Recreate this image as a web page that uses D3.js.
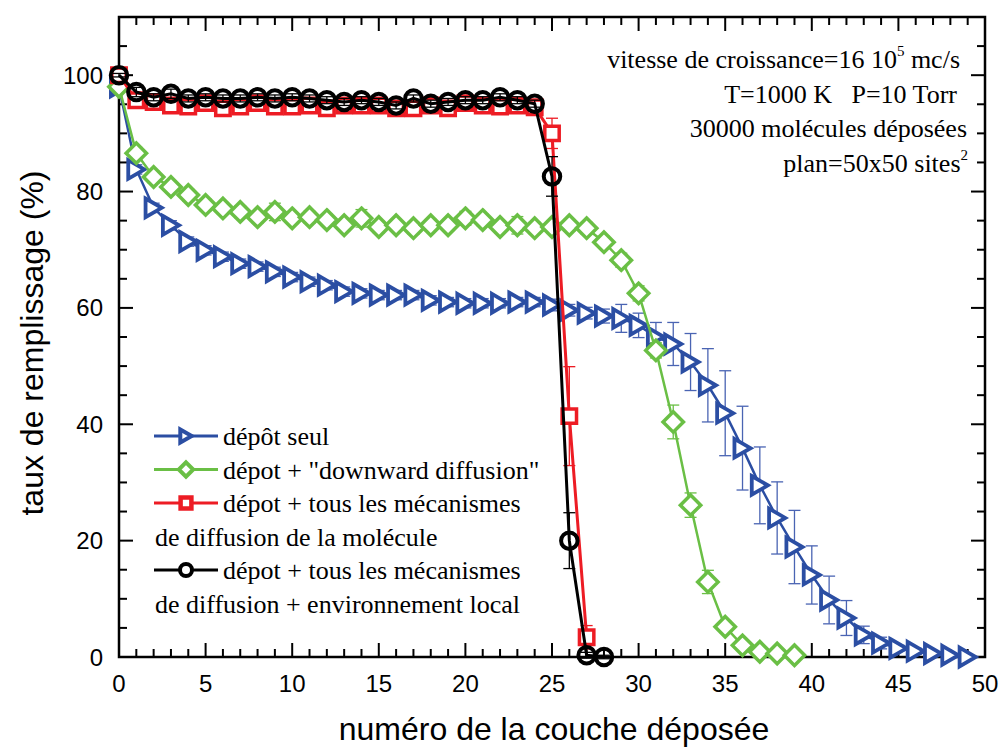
<!DOCTYPE html>
<html>
<head>
<meta charset="utf-8">
<script src="https://cdn.jsdelivr.net/npm/d3@7"></script>
<style>
  body { margin: 0; background: #fff; }
  svg { display: block; }
</style>
</head>
<body>
<div id="chart"></div>
<script>
// layer numbers (x) and filling rate (%) per series
var layers = [0,1,2,3,4,5,6,7,8,9,10,11,12,13,14,15,16,17,18,19,20,21,22,23,24,
  25,26,27,28,29,30,31,32,33,34,35,36,37,38,39,40,41,42,43,44,45,46,47,48,49];

var depotSeul = [98,83.8,77.2,74.2,71.4,69.9,68.8,67.6,67.1,66.2,65.3,64.5,63.9,62.8,62.5,62.2,62.2,
  62.2,61.3,61.0,60.8,60.8,60.8,61.0,61.0,60.5,59.6,59.1,58.6,58.2,57.0,55.0,53.8,50.7,46.7,41.9,
  35.9,29.5,23.9,18.9,14.1,9.8,6.7,3.8,2.4,1.5,1.0,0.6,0.3,0];
var depotSeulErr = [0.5,0.8,0.8,0.8,0.8,0.8,0.8,0.8,0.8,0.8,0.8,0.8,0.8,0.8,0.8,0.8,0.8,0.8,0.8,0.8,
  0.8,0.8,0.8,0.8,0.8,1.0,1.0,1.0,1.2,2.4,2.1,2.5,3.7,4.9,6.3,7.3,7.2,6.6,6.2,6.3,5.0,4.1,3.0,1.5,
  1.0,0.5,0.5,0.5,0.3,0.2];

var downward = [98,86.6,82.5,80.8,79.4,77.7,77.1,76.5,75.6,76.5,75.4,75.6,75.1,74.2,75.4,73.9,74.2,
  73.7,74.2,74.2,75.4,75.1,73.9,74.2,73.7,73.9,74.2,73.7,71.3,68.2,62.5,52.7,40.4,26.1,12.9,5.2,
  2.0,0.9,0.6,0.3];
var downwardErr = [0.5,1.0,1.0,1.0,1.0,1.0,1.0,1.0,1.0,1.5,1.0,1.0,1.0,1.0,1.5,1.0,1.0,1.0,1.0,1.0,
  1.2,1.0,1.0,1.5,1.0,1.0,1.0,1.0,1.0,1.2,1.3,1.3,2.9,2.1,2.0,1.0,0.5,0.3,0.3,0.2];

var tousMeca = [100,95.7,95.4,94.8,94.6,95.2,94.3,94.6,95.2,94.6,94.6,94.8,94.3,94.8,94.8,94.8,94.3,
  94.3,94.8,94.3,95.2,94.8,94.6,94.8,94.5,90.0,41.4,3.4];
var tousMecaErr = [0.3,0.6,0.6,0.6,0.6,0.6,0.6,0.6,0.6,0.6,0.6,0.6,0.6,0.6,0.6,0.6,0.6,0.6,0.6,0.6,
  0.6,0.6,0.6,0.6,0.6,2.6,8.5,2.0];

var environnement = [100,97.1,96.2,96.8,96.0,96.2,96.0,96.0,96.2,96.0,96.2,96.0,95.7,95.4,95.7,95.4,
  94.8,96.0,95.1,95.4,95.7,95.7,96.2,95.7,95.1,82.6,20.0,0.3,0];
var environnementErr = [0.3,0.8,0.6,0.8,0.6,0.6,0.6,0.6,0.6,0.6,0.6,0.6,0.6,0.6,0.6,0.6,0.6,0.6,0.6,
  0.6,0.6,0.6,0.6,0.6,0.6,3.4,4.8,0.5,0.3];

var xTicks = [0,5,10,15,20,25,30,35,40,45,50];
var yTicks = [0,20,40,60,80,100];

var series = [
  { values: depotSeul, err: depotSeulErr, color: "#2b4ea3", errColor: "#4a64b3", shape: "triangle", lw: 2.5, size: 17, sw: 3.8 },
  { values: downward, err: downwardErr, color: "#6abf45", errColor: "#6abf45", shape: "diamond", lw: 2.5, size: 17, sw: 3.5 },
  { values: tousMeca, err: tousMecaErr, color: "#ed1c24", errColor: "#ed1c24", shape: "square", lw: 3, size: 16, sw: 3.5 },
  { values: environnement, err: environnementErr, color: "#000000", errColor: "#000000", shape: "circle", lw: 3, size: 16.5, sw: 4 }
];

var legendItems = [
  { shape: "triangle", color: "#2b4ea3", lines: ["dépôt seul"] },
  { shape: "diamond", color: "#6abf45", lines: ["dépot + \"downward diffusion\""] },
  { shape: "square", color: "#ed1c24", lines: ["dépot + tous les mécanismes", "de diffusion de la molécule"] },
  { shape: "circle", color: "#000000", lines: ["dépot + tous les mécanismes", "de diffusion + environnement local"] }
];

var width = 1001, height = 747;
var plotL = 119, plotR = 985, plotT = 17, plotB = 657;

var svg = d3.select("#chart").append("svg")
  .attr("width", width)
  .attr("height", height);

var x = d3.scaleLinear().domain([0, 50]).range([plotL, plotR]);
var y = d3.scaleLinear().domain([0, 110]).range([plotB, plotT]);

// marker paths, centered on 0,0
function markerPath(shape, s) {
  if (shape == "triangle") {
    var w = s * 0.95, h = s * 1.1;
    return "M" + (-w / 2) + "," + (-h / 2) + "L" + (w / 2) + ",0L" + (-w / 2) + "," + (h / 2) + "Z";
  }
  if (shape == "diamond") {
    var r = s * 0.6;
    return "M0," + (-r) + "L" + r + ",0L0," + r + "L" + (-r) + ",0Z";
  }
  if (shape == "square") {
    var a = s * 0.45;
    return "M" + (-a) + "," + (-a) + "H" + a + "V" + a + "H" + (-a) + "Z";
  }
  var c = s * 0.5;
  return "M" + (-c) + ",0A" + c + "," + c + " 0 1,0 " + c + ",0A" + c + "," + c + " 0 1,0 " + (-c) + ",0Z";
}

// axes: frame with inward ticks on all four sides
var axisG = svg.append("g");

function tickSide(g, scale, major, minorStep, orient) {
  var dom = scale.domain();
  var vals = d3.range(dom[0], dom[1] + 0.001, minorStep);
  vals.forEach(function (v) {
    var isMajor = major.indexOf(v) >= 0;
    var len = isMajor ? 14 : 8;
    var p = scale(v);
    var line = g.append("line").attr("stroke", "#000").attr("stroke-width", 2);
    if (orient == "bottom") line.attr("x1", p).attr("x2", p).attr("y1", plotB).attr("y2", plotB - len);
    if (orient == "top") line.attr("x1", p).attr("x2", p).attr("y1", plotT).attr("y2", plotT + len);
    if (orient == "left") line.attr("y1", p).attr("y2", p).attr("x1", plotL).attr("x2", plotL + len);
    if (orient == "right") line.attr("y1", p).attr("y2", p).attr("x1", plotR).attr("x2", plotR - len);
  });
}

tickSide(axisG, x, xTicks, 1, "bottom");
tickSide(axisG, x, xTicks, 1, "top");
tickSide(axisG, y, yTicks, 5, "left");
tickSide(axisG, y, yTicks, 5, "right");

axisG.append("rect")
  .attr("x", plotL).attr("y", plotT)
  .attr("width", plotR - plotL).attr("height", plotB - plotT)
  .attr("fill", "none").attr("stroke", "#000").attr("stroke-width", 2.5);

svg.append("g").selectAll("text")
  .data(xTicks)
  .enter().append("text")
  .attr("x", d => x(d))
  .attr("y", 692)
  .attr("text-anchor", "middle")
  .attr("font-family", "Liberation Sans, Arial, sans-serif")
  .attr("font-size", 24)
  .text(d => d);

svg.append("g").selectAll("text")
  .data(yTicks)
  .enter().append("text")
  .attr("x", 103)
  .attr("y", d => y(d) + 8.5)
  .attr("text-anchor", "end")
  .attr("font-family", "Liberation Sans, Arial, sans-serif")
  .attr("font-size", 24)
  .text(d => d);

svg.append("text")
  .attr("x", (plotL + plotR) / 2 + 2)
  .attr("y", 740)
  .attr("text-anchor", "middle")
  .attr("font-family", "Liberation Sans, Arial, sans-serif")
  .attr("font-size", 32)
  .text("numéro de la couche déposée");

svg.append("text")
  .attr("transform", "translate(43," + ((plotT + plotB) / 2 + 6) + ") rotate(-90)")
  .attr("text-anchor", "middle")
  .attr("font-family", "Liberation Sans, Arial, sans-serif")
  .attr("font-size", 32)
  .text("taux de remplissage (%)");

// series: error bars, line, markers
series.forEach(function (s) {
  var pts = s.values.map((v, i) => ({ x: layers[i], y: v, e: s.err[i] }));
  var g = svg.append("g");

  var eb = g.append("g").attr("stroke", s.errColor).attr("stroke-width", 1.3);
  pts.forEach(function (p) {
    var cx = x(p.x), y1 = y(p.y + p.e), y2 = y(p.y - p.e);
    eb.append("line").attr("x1", cx).attr("x2", cx).attr("y1", y1).attr("y2", y2);
    eb.append("line").attr("x1", cx - 6).attr("x2", cx + 6).attr("y1", y1).attr("y2", y1);
    eb.append("line").attr("x1", cx - 6).attr("x2", cx + 6).attr("y1", y2).attr("y2", y2);
  });

  g.append("path")
    .datum(pts)
    .attr("fill", "none")
    .attr("stroke", s.color)
    .attr("stroke-width", s.lw)
    .attr("d", d3.line().x(d => x(d.x)).y(d => y(d.y)));

  g.selectAll(".mk")
    .data(pts)
    .enter().append("path")
    .attr("class", "mk")
    .attr("transform", d => "translate(" + x(d.x) + "," + y(d.y) + ")")
    .attr("d", markerPath(s.shape, s.size))
    .attr("fill", s.shape == "circle" ? "none" : "#fff")
    .attr("stroke", s.color)
    .attr("stroke-width", s.sw);
});

// legend
var leg = svg.append("g")
  .attr("font-family", "Liberation Serif, Times New Roman, serif")
  .attr("font-size", 26);

var row = 0;
legendItems.forEach(function (it) {
  var base = 445 + row * 33.5;
  var ly = base - 9;
  leg.append("line")
    .attr("x1", 154).attr("x2", 218)
    .attr("y1", ly).attr("y2", ly)
    .attr("stroke", it.color).attr("stroke-width", 3);
  leg.append("path")
    .attr("transform", "translate(186," + ly + ")")
    .attr("d", markerPath(it.shape, 12))
    .attr("fill", "#fff")
    .attr("stroke", it.color)
    .attr("stroke-width", it.shape == "square" ? 4.5 : 4);
  it.lines.forEach(function (t, k) {
    leg.append("text")
      .attr("x", k == 0 ? 223 : 155)
      .attr("y", base + k * 33.5)
      .text(t);
  });
  row += it.lines.length;
});

// annotation, top right
var note = svg.append("g")
  .attr("font-family", "Liberation Serif, Times New Roman, serif")
  .attr("font-size", 26)
  .attr("text-anchor", "end");

var t1 = note.append("text").attr("x", 960).attr("y", 68);
t1.append("tspan").text("vitesse de croissance=16 10");
t1.append("tspan").attr("font-size", 15).attr("dy", -12).text("5");
t1.append("tspan").attr("dy", 12).text("\u00a0mc/s");

note.append("text").attr("x", 957).attr("y", 103).text("T=1000 K\u00a0\u00a0 P=10 Torr");
note.append("text").attr("x", 967).attr("y", 137).text("30000 molécules déposées");

var t4 = note.append("text").attr("x", 968).attr("y", 172);
t4.append("tspan").text("plan=50x50 sites");
t4.append("tspan").attr("font-size", 15).attr("dy", -12).text("2");
</script>
</body>
</html>
